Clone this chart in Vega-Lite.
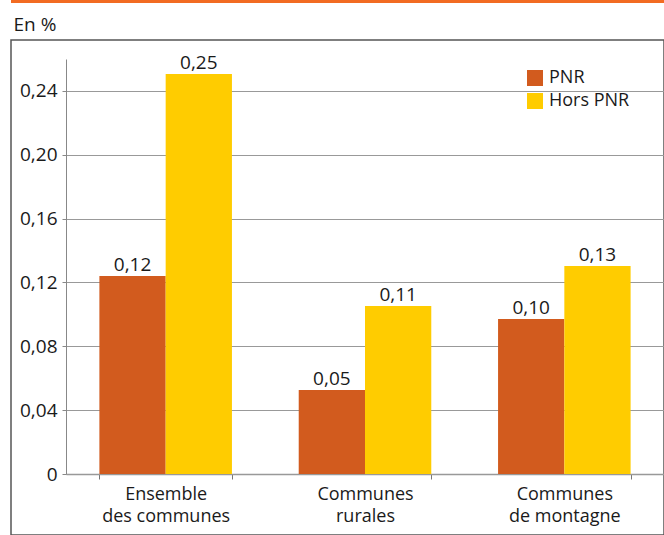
{
  "$schema": "https://vega.github.io/schema/vega-lite/v6.json",
  "width": 653,
  "height": 495,
  "autosize": {"type": "none"},
  "padding": {"left": 11, "top": 40, "right": 0, "bottom": 0},
  "background": "white",
  "config": {
    "locale": {"number": {"decimal": ",", "thousands": " ", "grouping": [3], "currency": ["", " €"]}},
    "font": "Open Sans",
    "view": {"stroke": "#555555", "strokeWidth": 1.5},
    "axis": {"labelColor": "#1a1a1a", "titleColor": "#1a1a1a", "labelFont": "Open Sans", "titleFont": "Open Sans"},
    "legend": {"labelColor": "#1a1a1a", "labelFont": "Open Sans"}
  },
  "data": {
    "values": [
      {"cat": "Ensemble des communes", "serie": "PNR", "val": 0.1241},
      {"cat": "Ensemble des communes", "serie": "Hors PNR", "val": 0.2506},
      {"cat": "Communes rurales", "serie": "PNR", "val": 0.0526},
      {"cat": "Communes rurales", "serie": "Hors PNR", "val": 0.1053},
      {"cat": "Communes de montagne", "serie": "PNR", "val": 0.0971},
      {"cat": "Communes de montagne", "serie": "Hors PNR", "val": 0.1303}
    ]
  },
  "layer": [
    {
      "data": {"values": [{"deco": "bandeau"}]},
      "mark": {"type": "rule", "color": "#F26B22", "strokeWidth": 3},
      "encoding": {"y": {"datum": 0.296, "type": "quantitative"}}
    },
    {
      "encoding": {
        "x": {
          "field": "cat",
          "type": "nominal",
          "sort": ["Ensemble des communes", "Communes rurales", "Communes de montagne"],
          "scale": {"range": [55, 653], "paddingInner": 0.335, "paddingOuter": 0.1675},
          "axis": {
            "orient": "bottom",
            "offset": -61,
            "title": null,
            "labelAngle": 0,
            "labelExpr": "datum.label == 'Ensemble des communes' ? ['Ensemble', 'des communes'] : datum.label == 'Communes rurales' ? ['Communes', 'rurales'] : datum.label == 'Communes de montagne' ? ['Communes', 'de montagne'] : ''",
            "labelFontSize": 18,
            "labelLineHeight": 22,
            "labelPadding": 6,
            "labelLimit": 0,
            "tickBand": "extent",
            "tickSize": 5,
            "tickColor": "#777777",
            "domainColor": "#999999",
            "domainWidth": 1.5,
            "grid": false
          }
        },
        "xOffset": {"field": "serie", "type": "nominal", "sort": ["PNR", "Hors PNR"], "scale": {"paddingInner": 0, "paddingOuter": 0}},
        "y": {
          "field": "val",
          "type": "quantitative",
          "scale": {"domain": [0, 0.26], "range": [434, 19], "nice": false, "zero": true},
          "axis": {
            "orient": "left",
            "offset": -55,
            "values": [0, 0.04, 0.08, 0.12, 0.16, 0.2, 0.24],
            "labelExpr": "datum.value == 0 ? '0' : replace(format(datum.value, '.2f'), '.', ',')",
            "labelFontSize": 19,
            "labelPadding": 5,
            "tickSize": 4,
            "tickColor": "#888888",
            "domainColor": "#888888",
            "grid": true,
            "gridColor": "#999999",
            "gridWidth": 1,
            "title": "En %",
            "titleAngle": 0,
            "titleX": -53,
            "titleY": -10,
            "titleAlign": "left",
            "titleBaseline": "alphabetic",
            "titleFontSize": 19,
            "titleFontWeight": "normal"
          }
        }
      },
      "layer": [
        {
          "mark": {"type": "bar"},
          "encoding": {
            "color": {
              "field": "serie",
              "type": "nominal",
              "sort": ["PNR", "Hors PNR"],
              "scale": {"domain": ["PNR", "Hors PNR"], "range": ["#D25B1E", "#FFCC00"]},
              "legend": {
                "title": null,
                "orient": "none",
                "legendX": 515,
                "legendY": 29,
                "symbolType": "square",
                "symbolSize": 256,
                "symbolStrokeWidth": 0,
                "symbolOpacity": 1,
                "labelFontSize": 18,
                "labelOffset": 5,
                "rowPadding": 5,
                "padding": 0
              }
            }
          }
        },
        {
          "mark": {"type": "text", "baseline": "alphabetic", "dy": -5, "fontSize": 19, "color": "#1a1a1a"},
          "encoding": {"text": {"field": "val", "type": "quantitative", "format": ".2f"}}
        }
      ]
    }
  ]
}
